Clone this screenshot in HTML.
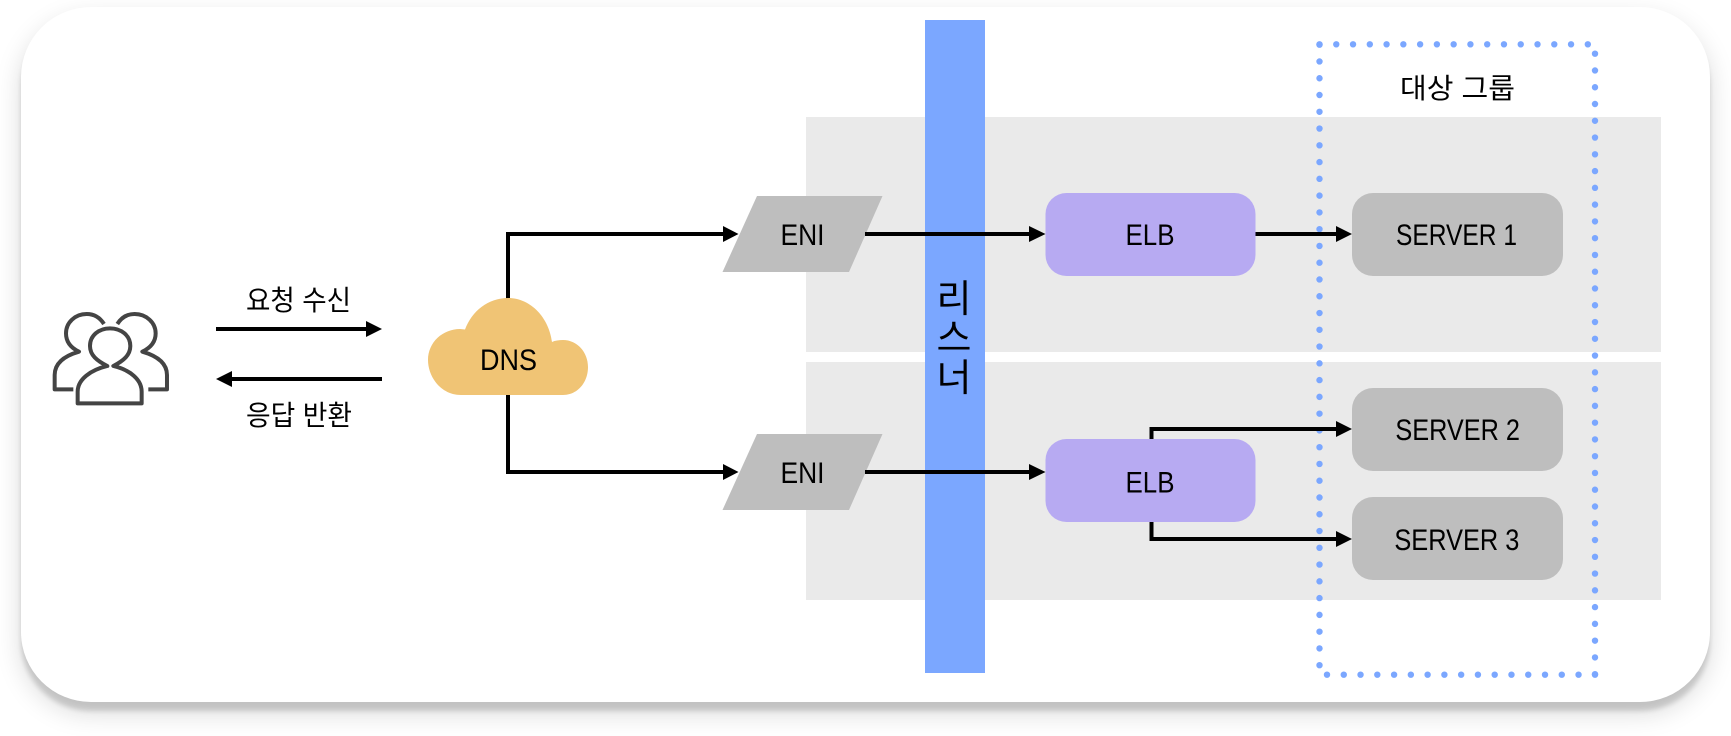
<!DOCTYPE html>
<html lang="ko"><head><meta charset="utf-8"><title>DNS ELB</title>
<style>
html,body{margin:0;padding:0;background:#fff;width:1731px;height:736px;overflow:hidden}
#card{position:absolute;left:21px;top:7px;width:1689px;height:695px;background:#fff;border-radius:70px;box-shadow:0 9px 5px rgba(0,0,0,.14),0 11px 26px rgba(0,0,0,.15)}
svg{position:absolute;left:0;top:0}
text{font-family:"Liberation Sans","Noto Sans CJK KR",sans-serif;fill:#000}
.k{font-family:"Noto Sans CJK KR","Liberation Sans",sans-serif;font-size:28px}
.l{font-size:30px}
.a{stroke:#000;stroke-width:4;fill:none;stroke-linejoin:miter}
.h{fill:#000}
.d{stroke:#7ba7ff;stroke-width:6.4;stroke-linecap:round;stroke-dasharray:0 16.77;fill:none}
.u{stroke:#444;stroke-width:12;fill:none;stroke-linejoin:round}
</style></head><body>
<div id="card"></div>
<svg width="1731" height="736" viewBox="0 0 1731 736" xmlns="http://www.w3.org/2000/svg">
<rect x="806" y="117" width="855" height="235" fill="#eaeaea"/>
<rect x="806" y="362" width="855" height="238" fill="#eaeaea"/>
<rect x="925" y="20" width="60" height="653" fill="#7ba7ff"/>

<path class="d" d="M1319.5 44.3H1589"/>
<path class="d" d="M1319.5 44.7V666"/>
<path class="d" d="M1595 53.7V675.5"/>
<path class="d" d="M1327 674.7H1579"/>
<circle cx="1595" cy="674.7" r="3.2" fill="#7ba7ff"/>

<g transform="translate(30,290) scale(.3333)">
<path class="u" d="M232 228C200 212 180 195 180 168C180 137 206 115 240 115C274 115 301 137 301 168C301 195 281 212 250 228C300 240 335 268 335 305V340H143V305C143 268 182 240 232 228Z" />
<path class="u" d="M222 102C210 83 192 72 170 72C135 72 108 98 108 130C108 155 122 173 147 185C105 197 74 218 74 255V298H130"/>
<path class="u" d="M262 102C274 83 292 72 314 72C349 72 377 98 377 130C377 155 362 173 337 185C379 197 411 218 411 255V298H355"/>
</g>

<path class="a" d="M216 329H368"/><path class="h" d="M382 329L366 321V337Z"/>
<path class="a" d="M382 379H230"/><path class="h" d="M216 379L232 371V387Z"/>

<path class="a" d="M508 300V234H725"/><path class="h" d="M738.5 234L723 226V242Z"/>
<path class="a" d="M508 390V472H725"/><path class="h" d="M738.5 472L723 464V480Z"/>
<path class="a" d="M865 234H1032"/><path class="h" d="M1045.5 234L1029 226V242Z"/>
<path class="a" d="M865 472H1032"/><path class="h" d="M1045.5 472L1029 464V480Z"/>
<path class="a" d="M1255 234H1338"/><path class="h" d="M1352 234L1336 226V242Z"/>
<path class="a" d="M1151.5 445V429H1338"/><path class="h" d="M1352 429L1336 421V437Z"/>
<path class="a" d="M1151.5 515V539H1338"/><path class="h" d="M1352 539L1336 531V547Z"/>

<path d="M461 395C441 395 428 377 428 360C428 342 443 329 460 329L465 329.5C472 311 488 298 508 298C531 298 549 318 552 342C555 340.5 559 340 563 340C577 340 588 352 588 367C588 383 577 395 563 395Z" fill="#f0c475"/>

<path d="M757 196H882.5L849 272H722.5Z" fill="#bebebe"/>
<path d="M757 434H882.5L849 510H722.5Z" fill="#bebebe"/>
<path class="a" d="M865 234H925"/>
<path class="a" d="M865 472H925"/>

<rect x="1045.5" y="193" width="210" height="83" rx="21" fill="#b7aaf2"/>
<rect x="1045.5" y="439" width="210" height="83" rx="21" fill="#b7aaf2"/>
<rect x="1352" y="193" width="211" height="83" rx="21" fill="#bebebe"/>
<rect x="1352" y="388" width="211" height="83" rx="21" fill="#bebebe"/>
<rect x="1352" y="497" width="211" height="83" rx="21" fill="#bebebe"/>

<text class="k" x="246" y="310" textLength="105" lengthAdjust="spacingAndGlyphs">요청 수신</text>
<text class="k" x="246" y="425" textLength="106" lengthAdjust="spacingAndGlyphs">응답 반환</text>
<text class="k" x="1400" y="98" textLength="115" lengthAdjust="spacingAndGlyphs">대상 그룹</text>
<text class="k" style="font-size:38px" x="954" y="312" text-anchor="middle">리</text>
<text class="k" style="font-size:38px" x="954" y="351" text-anchor="middle">스</text>
<text class="k" style="font-size:38px" x="954" y="391" text-anchor="middle">너</text>
<text class="l" x="480" y="370" textLength="57" lengthAdjust="spacingAndGlyphs">DNS</text>
<text class="l" x="780.5" y="245" textLength="44" lengthAdjust="spacingAndGlyphs">ENI</text>
<text class="l" x="780.5" y="483" textLength="44" lengthAdjust="spacingAndGlyphs">ENI</text>
<text class="l" x="1125.5" y="245" textLength="49" lengthAdjust="spacingAndGlyphs">ELB</text>
<text class="l" x="1125.5" y="492.5" textLength="49" lengthAdjust="spacingAndGlyphs">ELB</text>
<text class="l" x="1396" y="245" textLength="121" lengthAdjust="spacingAndGlyphs">SERVER 1</text>
<text class="l" x="1395.4" y="440" textLength="124.6" lengthAdjust="spacingAndGlyphs">SERVER 2</text>
<text class="l" x="1394.4" y="550" textLength="125" lengthAdjust="spacingAndGlyphs">SERVER 3</text>
</svg>
</body></html>
